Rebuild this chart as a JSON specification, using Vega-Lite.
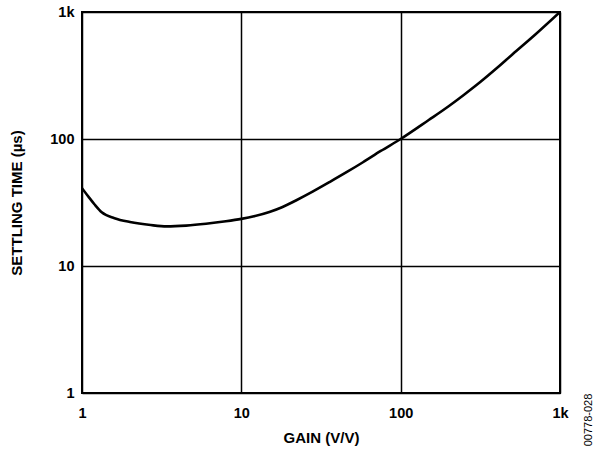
{
  "$schema": "https://vega.github.io/schema/vega-lite/v6.json",
  "width": 478,
  "height": 381,
  "autosize": "none",
  "padding": {"left": 82, "top": 12, "right": 39, "bottom": 57},
  "background": "white",
  "config": {
    "view": {"stroke": "black", "strokeWidth": 2},
    "font": "Liberation Sans",
    "axis": {
      "labelFont": "Liberation Sans",
      "titleFont": "Liberation Sans",
      "labelFontWeight": "bold",
      "titleFontWeight": "bold",
      "labelColor": "black",
      "titleColor": "black",
      "gridColor": "black",
      "gridOpacity": 1,
      "gridWidth": 1.5,
      "ticks": false,
      "domain": false
    }
  },
  "data": {
    "values": [
      {"gain": 1, "t": 41},
      {"gain": 1.1, "t": 35},
      {"gain": 1.2, "t": 30.5},
      {"gain": 1.33, "t": 26.5},
      {"gain": 1.6, "t": 23.8},
      {"gain": 2, "t": 22.2},
      {"gain": 2.7, "t": 21},
      {"gain": 3.4, "t": 20.5},
      {"gain": 4.5, "t": 20.8},
      {"gain": 6, "t": 21.5},
      {"gain": 8, "t": 22.5},
      {"gain": 10, "t": 23.5},
      {"gain": 12, "t": 24.6},
      {"gain": 15, "t": 26.6},
      {"gain": 18, "t": 29},
      {"gain": 22, "t": 32.8},
      {"gain": 28, "t": 38.5},
      {"gain": 36, "t": 46},
      {"gain": 46, "t": 55},
      {"gain": 58, "t": 65.6},
      {"gain": 75, "t": 80.5},
      {"gain": 100, "t": 100},
      {"gain": 150, "t": 141},
      {"gain": 200, "t": 181},
      {"gain": 250, "t": 223},
      {"gain": 313, "t": 278},
      {"gain": 400, "t": 360},
      {"gain": 504, "t": 465},
      {"gain": 700, "t": 665},
      {"gain": 1000, "t": 1000}
    ]
  },
  "layer": [
    {
      "mark": {"type": "line", "color": "black", "strokeWidth": 2.6, "interpolate": "monotone", "clip": true},
      "encoding": {
        "x": {
          "field": "gain", "type": "quantitative",
          "scale": {"type": "log", "domain": [1, 1000], "nice": false},
          "axis": {
            "values": [1, 10, 100, 1000],
            "labelExpr": "datum.value >= 1000 ? '1k' : format(datum.value, 'd')",
            "labelFontSize": 14.5,
            "labelPadding": 13,
            "title": "GAIN (V/V)",
            "titleFontSize": 15,
            "titlePadding": 11,
            "labelFlush": false
          }
        },
        "y": {
          "field": "t", "type": "quantitative",
          "scale": {"type": "log", "domain": [1, 1000], "nice": false},
          "axis": {
            "values": [1, 10, 100, 1000],
            "labelExpr": "datum.value >= 1000 ? '1k' : format(datum.value, 'd')",
            "labelFontSize": 14.5,
            "labelPadding": 8,
            "labelBaseline": "middle",
            "title": "SETTLING TIME (µs)",
            "titleFontSize": 15,
            "titlePadding": 25,
            "labelFlush": false
          }
        }
      }
    },
    {
      "data": {"values": [{"gain": 1000, "t": 1, "label": "00778-028"}]},
      "mark": {"type": "text", "angle": 270, "fontSize": 11, "font": "Liberation Sans", "color": "black", "align": "center", "baseline": "middle", "dx": -27, "dy": 29},
      "encoding": {
        "x": {"field": "gain", "type": "quantitative"},
        "y": {"field": "t", "type": "quantitative"},
        "text": {"field": "label"}
      }
    }
  ]
}
